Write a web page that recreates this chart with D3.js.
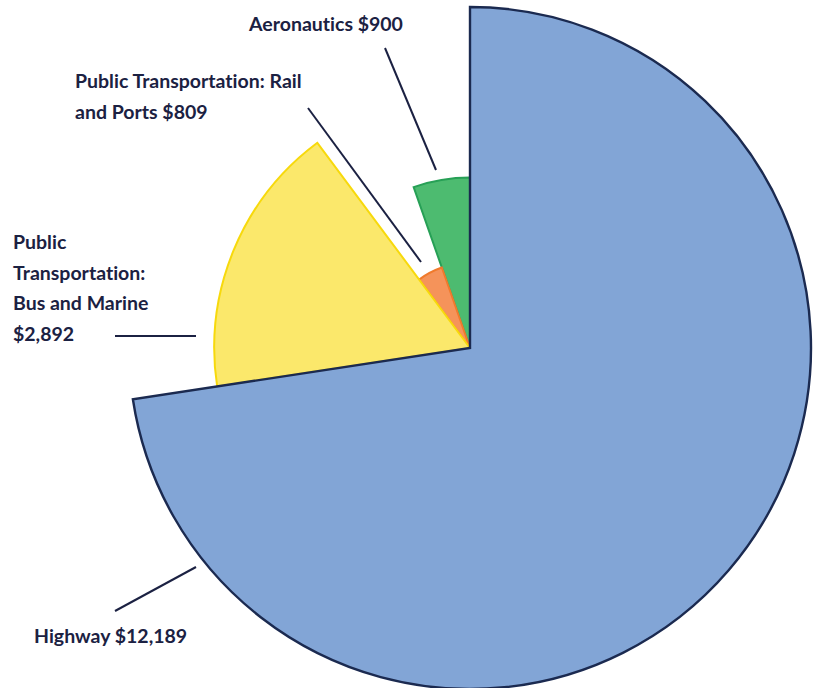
<!DOCTYPE html>
<html>
  <head>
    <script src="https://cdn.jsdelivr.net/npm/d3@7"></script>
    <style>
      body { margin: 0; background: #fff; }
      text { font-family: "Lato", "Open Sans", sans-serif; font-weight: 700; fill: #1b2142; font-variant-ligatures: none; }
    </style>
  </head>
  <body>
    <div id="chart"></div>
    <script>
      // Spending by mode (millions), drawn clockwise from 12 o'clock
      const categories = ["Highway", "Public Transportation: Bus and Marine", "Public Transportation: Rail and Ports", "Aeronautics"];
      const amounts = [12189, 2892, 809, 900];
      // size rank of each slice (1 = biggest) -> drives the radius
      const ranks = [1, 2, 4, 3];
      const fills = ["#82a5d6", "#fbe86b", "#f5935a", "#4dbb70"];
      const strokes = ["#1b2a50", "#f7d90c", "#f07a2c", "#27a056"];

      // label text, one entry per line
      const labelLines = [
        ["Highway $12,189"],
        ["Public", "Transportation:", "Bus and Marine", "$2,892"],
        ["Public Transportation: Rail", "and Ports $809"],
        ["Aeronautics $900"]
      ];

      const width = 819, height = 688;
      const cx = 470, cy = 348, maxR = 341;

      const svg = d3.select("#chart").append("svg")
        .attr("width", width)
        .attr("height", height);

      const g = svg.append("g").attr("transform", `translate(${cx},${cy})`);

      const data = categories.map((c, i) => ({name: c, value: amounts[i], rank: ranks[i], i: i}));

      const pie = d3.pie().sort(null).value(d => d.value);
      const rScale = d3.scaleLinear().domain([5, 1]).range([0, maxR]);

      const arc = d3.arc()
        .innerRadius(0)
        .outerRadius(d => rScale(d.data.rank));

      const arcs = pie(data);

      // draw small slices first so the highway outline sits on top
      g.selectAll("path.slice")
        .data(arcs.slice().reverse())
        .join("path")
          .attr("class", "slice")
          .attr("d", arc)
          .attr("fill", d => fills[d.data.i])
          .attr("stroke", d => strokes[d.data.i])
          .attr("stroke-width", d => d.data.i === 0 ? 2.4 : 2)
          .attr("stroke-linejoin", "miter");

      // leader lines
      const leaders = [
        [[115, 611], [196, 567]],
        [[115, 336], [196, 336]],
        [[308, 108], [421, 262]],
        [[385, 48], [436, 170]]
      ];
      svg.selectAll("line.leader")
        .data(leaders)
        .join("line")
          .attr("class", "leader")
          .attr("x1", d => d[0][0]).attr("y1", d => d[0][1])
          .attr("x2", d => d[1][0]).attr("y2", d => d[1][1])
          .attr("stroke", "#1b2142")
          .attr("stroke-width", 2);

      // labels
      const labelPos = [[34, 643], [13, 249], [75, 88], [249, 31]];
      const lineH = 30.5;
      labelLines.forEach((lines, i) => {
        const t = svg.append("text")
          .attr("x", labelPos[i][0])
          .attr("y", labelPos[i][1])
          .style("font-size", "19.5px");
        lines.forEach((l, j) => {
          t.append("tspan")
            .attr("x", labelPos[i][0])
            .attr("dy", j === 0 ? 0 : lineH)
            .text(l);
        });
      });
    </script>
  </body>
</html>
